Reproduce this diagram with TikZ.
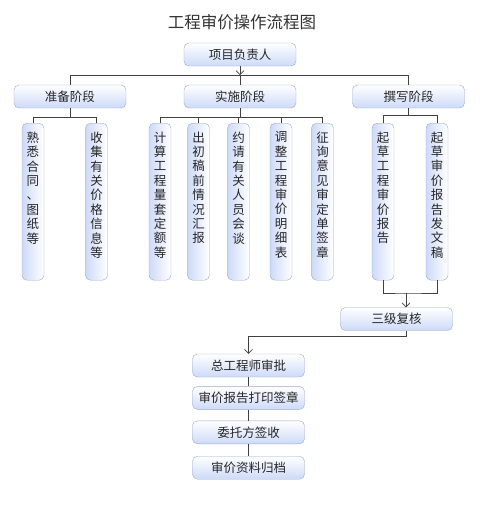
\documentclass[tikz,border=0pt]{standalone}
\usepackage{fontspec}
\setmainfont{Noto Sans CJK SC}
\usetikzlibrary{positioning, arrows.meta, shadings}

\definecolor{boxline}{RGB}{150,170,205}
\definecolor{boxblue}{RGB}{205,218,248}
\definecolor{linkgray}{RGB}{64,64,64}

% vertical stacked text for the tall boxes
\newcommand{\vtxt}[1]{\parbox[t][140pt][t]{14pt}{\centering\fontsize{12.5}{14.4}\selectfont #1}}

\begin{document}
\begin{tikzpicture}[
  x=1pt, y=-1pt,
  font=\fontsize{12.5}{14}\selectfont,
  node distance=9pt,
  hbox/.style={draw=boxline, rounded corners=5pt, minimum width=112pt, minimum height=23pt, inner sep=1pt, top color=white, bottom color=boxblue, text=black!85},
  vbox/.style={draw=boxline, rounded corners=5pt, minimum width=22pt, minimum height=157pt, inner xsep=4pt, inner ysep=8.5pt, anchor=north, left color=boxblue, right color=white, text=black!85},
  link/.style={draw=linkgray, line width=0.8pt},
  arr/.style={link, -{Straight Barb[length=4pt, width=8pt, line width=0.6pt]}}
]
\useasboundingbox (0,0) rectangle (498,507);

% Title
\node[font=\fontsize{16.5}{18}\selectfont, text=black!80] (title) at (242,22) {工程审价操作流程图};

% Row 1: project lead
\node[hbox] (lead) at (240,54.5) {项目负责人};

% Row 2: three stages
\node[hbox] (prep)  at (70,96.5)    {准备阶段};
\node[hbox] (impl)  at (240,96.5)   {实施阶段};
\node[hbox] (write) at (408.5,96.5) {撰写阶段};

% Row 3: tall task boxes
\node[vbox] (v1) at (33,123)    {\vtxt{熟\\悉\\合\\同\\、\\图\\纸\\等}};
\node[vbox] (v2) at (96.5,123)  {\vtxt{收\\集\\有\\关\\价\\格\\信\\息\\等}};
\node[vbox] (v3) at (160,123)   {\vtxt{计\\算\\工\\程\\量\\套\\定\\额\\等}};
\node[vbox] (v4) at (198.5,123) {\vtxt{出\\初\\稿\\前\\情\\况\\汇\\报}};
\node[vbox] (v5) at (238.5,123) {\vtxt{约\\请\\有\\关\\人\\员\\会\\谈}};
\node[vbox] (v6) at (281,123)   {\vtxt{调\\整\\工\\程\\审\\价\\明\\细\\表}};
\node[vbox] (v7) at (322.5,123) {\vtxt{征\\询\\意\\见\\审\\定\\单\\签\\章}};
\node[vbox] (v8) at (383,123)   {\vtxt{起\\草\\工\\程\\审\\价\\报\\告}};
\node[vbox] (v9) at (437,123)   {\vtxt{起\\草\\审\\价\\报\\告\\发\\文\\稿}};

% Row 4: review and closing chain
\node[hbox] (review) at (396.5,319) {三级复核};
\node[hbox] (chief) at (248.5,365.5) {总工程师审批};
\node[hbox, below=9pt of chief]   (print)   {审价报告打印签章};
\node[hbox, below=11pt of print]  (client)  {委托方签收};
\node[hbox, below=12pt of client] (archive) {审价资料归档};

% Junction levels
\coordinate (bar)  at (0,75);
\coordinate (pbar) at (0,117);
\coordinate (ibar) at (0,117);
\coordinate (wbar) at (0,115);
\coordinate (rbar) at (406,293);
\coordinate (cbar) at (0,336);

% lead -> stages
\draw[arr]  (lead.south) -- (lead.south |- bar);
\draw[link] (prep.north) -- (prep.north |- bar) -- (write.north |- bar) -- (write.north);
\draw[link] (impl.north) -- (impl.north |- bar);

% stages -> tasks
\draw[link] (prep.south) -- (prep.south |- pbar);
\draw[link] (v1.north) -- (v1.north |- pbar) -- (v2.north |- pbar) -- (v2.north);
\draw[link] (impl.south) -- (impl.south |- ibar);
\draw[link] (v3.north) -- (v3.north |- ibar) -- (v7.north |- ibar) -- (v7.north);
\foreach \n in {v4,v5,v6}
  \draw[link] (\n.north) -- (\n.north |- ibar);
\draw[link] (write.south) -- (write.south |- wbar);
\draw[link] (v8.north) -- (v8.north |- wbar) -- (v9.north |- wbar) -- (v9.north);

% drafts -> review -> chief engineer
\draw[link] (v8.south) |- (rbar) -| (v9.south);
\draw[arr]  (rbar) -- (rbar |- review.north);
\draw[arr]  ([xshift=10pt]review.south) -- ([xshift=10pt]review.south |- cbar) -| (chief.north);

% closing chain
\draw[link] (chief.south)  -- (print.north);
\draw[link] (print.south)  -- (client.north);
\draw[link] (client.south) -- (archive.north);

\end{tikzpicture}
\end{document}
